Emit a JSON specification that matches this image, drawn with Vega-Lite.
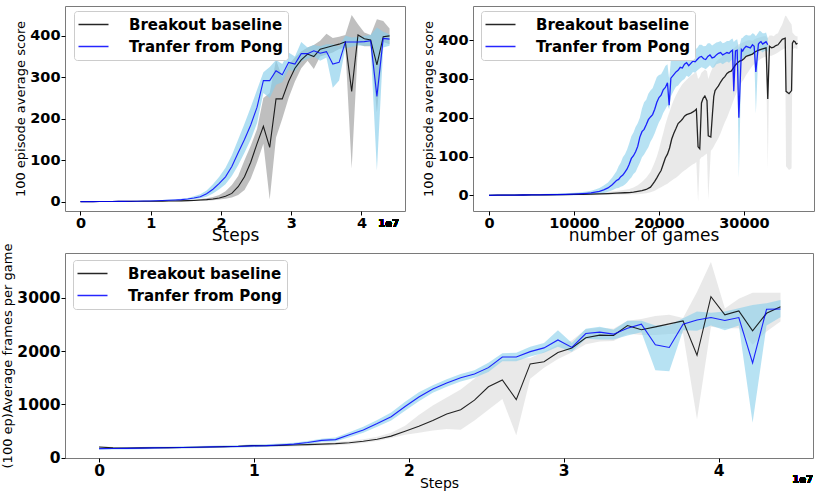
{
  "$schema": "https://vega.github.io/schema/vega-lite/v6.json",
  "background": "white",
  "padding": {"left": 1, "top": 5, "right": 2, "bottom": 2},
  "spacing": -2,
  "config": {
    "view": {"stroke": "#7a7a7a", "strokeWidth": 1},
    "axis": {
      "domain": false, "grid": false, "ticks": true, "tickColor": "#000000", "tickSize": 4,
      "labelFont": "DejaVu Sans", "labelFontWeight": "bold", "labelFontSize": 14.5, "labelColor": "#000000", "labelPadding": 1,
      "titleFont": "DejaVu Sans", "titleFontWeight": "normal", "titleColor": "#000000"
    },
    "axisX": {"titleFontSize": 17, "titlePadding": -2},
    "axisY": {"titleFontSize": 13, "titlePadding": 2},
    "legend": {
      "orient": "none", "legendX": 9, "legendY": 5, "fillColor": "white", "strokeColor": "#cccccc", "cornerRadius": 3, "padding": 5,
      "symbolType": "M-2,0H2", "symbolSize": 225, "symbolOffset": 6, "symbolStrokeWidth": 1.5,
      "labelFont": "DejaVu Sans", "labelFontWeight": "bold", "labelFontSize": 15, "labelOffset": 27, "rowPadding": 5, "labelLimit": 300
    }
  },
  "resolve": {"scale": {"stroke": "independent"}, "legend": {"stroke": "independent"}},
  "datasets": {
    "tl": [
      {"s": 0, "run": "Breakout baseline", "m": 0, "lo": 0, "hi": 0.5},
      {"s": 0.09, "run": "Breakout baseline", "m": 0.1, "lo": 0, "hi": 0.5},
      {"s": 0.18, "run": "Breakout baseline", "m": 0.2, "lo": 0, "hi": 0.6},
      {"s": 0.269, "run": "Breakout baseline", "m": 0.3, "lo": 0, "hi": 0.8},
      {"s": 0.359, "run": "Breakout baseline", "m": 0.4, "lo": 0, "hi": 1},
      {"s": 0.449, "run": "Breakout baseline", "m": 0.5, "lo": 0, "hi": 1},
      {"s": 0.539, "run": "Breakout baseline", "m": 0.6, "lo": 0.1, "hi": 1.2},
      {"s": 0.629, "run": "Breakout baseline", "m": 0.7, "lo": 0.2, "hi": 1.3},
      {"s": 0.718, "run": "Breakout baseline", "m": 0.8, "lo": 0.3, "hi": 1.4},
      {"s": 0.808, "run": "Breakout baseline", "m": 0.9, "lo": 0.4, "hi": 1.5},
      {"s": 0.898, "run": "Breakout baseline", "m": 1, "lo": 0.5, "hi": 1.6},
      {"s": 0.988, "run": "Breakout baseline", "m": 1.1, "lo": 0.5, "hi": 1.8},
      {"s": 1.078, "run": "Breakout baseline", "m": 1.2, "lo": 0.6, "hi": 2},
      {"s": 1.167, "run": "Breakout baseline", "m": 1.3, "lo": 0.7, "hi": 2.1},
      {"s": 1.257, "run": "Breakout baseline", "m": 1.5, "lo": 0.8, "hi": 2.4},
      {"s": 1.347, "run": "Breakout baseline", "m": 1.7, "lo": 0.9, "hi": 2.7},
      {"s": 1.437, "run": "Breakout baseline", "m": 2, "lo": 1, "hi": 3.2},
      {"s": 1.527, "run": "Breakout baseline", "m": 2.5, "lo": 1.3, "hi": 4},
      {"s": 1.616, "run": "Breakout baseline", "m": 3, "lo": 1.6, "hi": 5},
      {"s": 1.706, "run": "Breakout baseline", "m": 4, "lo": 2, "hi": 6.5},
      {"s": 1.796, "run": "Breakout baseline", "m": 5, "lo": 2.6, "hi": 8.5},
      {"s": 1.886, "run": "Breakout baseline", "m": 6.5, "lo": 3.5, "hi": 11},
      {"s": 1.976, "run": "Breakout baseline", "m": 9, "lo": 5, "hi": 16},
      {"s": 2.065, "run": "Breakout baseline", "m": 13, "lo": 7, "hi": 25},
      {"s": 2.155, "run": "Breakout baseline", "m": 20, "lo": 10, "hi": 40},
      {"s": 2.245, "run": "Breakout baseline", "m": 36, "lo": 16, "hi": 62},
      {"s": 2.335, "run": "Breakout baseline", "m": 60, "lo": 28, "hi": 100},
      {"s": 2.424, "run": "Breakout baseline", "m": 95, "lo": 55, "hi": 135},
      {"s": 2.514, "run": "Breakout baseline", "m": 140, "lo": 95, "hi": 175},
      {"s": 2.604, "run": "Breakout baseline", "m": 182, "lo": 140, "hi": 250},
      {"s": 2.694, "run": "Breakout baseline", "m": 131, "lo": 5, "hi": 262},
      {"s": 2.784, "run": "Breakout baseline", "m": 248, "lo": 155, "hi": 342},
      {"s": 2.873, "run": "Breakout baseline", "m": 248, "lo": 200, "hi": 300},
      {"s": 2.963, "run": "Breakout baseline", "m": 290, "lo": 250, "hi": 330},
      {"s": 3.053, "run": "Breakout baseline", "m": 322, "lo": 290, "hi": 348},
      {"s": 3.143, "run": "Breakout baseline", "m": 342, "lo": 322, "hi": 362},
      {"s": 3.233, "run": "Breakout baseline", "m": 356, "lo": 340, "hi": 372},
      {"s": 3.322, "run": "Breakout baseline", "m": 350, "lo": 320, "hi": 378},
      {"s": 3.412, "run": "Breakout baseline", "m": 368, "lo": 350, "hi": 388},
      {"s": 3.502, "run": "Breakout baseline", "m": 372, "lo": 355, "hi": 405},
      {"s": 3.592, "run": "Breakout baseline", "m": 376, "lo": 360, "hi": 395},
      {"s": 3.682, "run": "Breakout baseline", "m": 380, "lo": 368, "hi": 398},
      {"s": 3.771, "run": "Breakout baseline", "m": 386, "lo": 372, "hi": 402},
      {"s": 3.861, "run": "Breakout baseline", "m": 266, "lo": 80, "hi": 450},
      {"s": 3.951, "run": "Breakout baseline", "m": 402, "lo": 380, "hi": 428},
      {"s": 4.041, "run": "Breakout baseline", "m": 393, "lo": 375, "hi": 408},
      {"s": 4.131, "run": "Breakout baseline", "m": 390, "lo": 375, "hi": 402},
      {"s": 4.22, "run": "Breakout baseline", "m": 330, "lo": 215, "hi": 440},
      {"s": 4.31, "run": "Breakout baseline", "m": 398, "lo": 385, "hi": 436},
      {"s": 4.4, "run": "Breakout baseline", "m": 400, "lo": 380, "hi": 418},
      {"s": 0, "run": "Tranfer from Pong", "m": 0, "lo": -0.5, "hi": 0.5},
      {"s": 0.09, "run": "Tranfer from Pong", "m": 0.1, "lo": -0.4, "hi": 0.6},
      {"s": 0.18, "run": "Tranfer from Pong", "m": 0.2, "lo": -0.3, "hi": 0.7},
      {"s": 0.269, "run": "Tranfer from Pong", "m": 0.3, "lo": -0.2, "hi": 0.9},
      {"s": 0.359, "run": "Tranfer from Pong", "m": 0.4, "lo": 0, "hi": 1},
      {"s": 0.449, "run": "Tranfer from Pong", "m": 0.5, "lo": 0, "hi": 1.1},
      {"s": 0.539, "run": "Tranfer from Pong", "m": 0.6, "lo": 0.1, "hi": 1.2},
      {"s": 0.629, "run": "Tranfer from Pong", "m": 0.8, "lo": 0.2, "hi": 1.4},
      {"s": 0.718, "run": "Tranfer from Pong", "m": 1, "lo": 0.3, "hi": 1.7},
      {"s": 0.808, "run": "Tranfer from Pong", "m": 1.2, "lo": 0.4, "hi": 2},
      {"s": 0.898, "run": "Tranfer from Pong", "m": 1.5, "lo": 0.6, "hi": 2.4},
      {"s": 0.988, "run": "Tranfer from Pong", "m": 1.8, "lo": 0.8, "hi": 2.9},
      {"s": 1.078, "run": "Tranfer from Pong", "m": 2.2, "lo": 1, "hi": 3.4},
      {"s": 1.167, "run": "Tranfer from Pong", "m": 2.7, "lo": 1.3, "hi": 4.1},
      {"s": 1.257, "run": "Tranfer from Pong", "m": 3.3, "lo": 1.8, "hi": 5},
      {"s": 1.347, "run": "Tranfer from Pong", "m": 4, "lo": 2.3, "hi": 6},
      {"s": 1.437, "run": "Tranfer from Pong", "m": 5, "lo": 3.5, "hi": 7},
      {"s": 1.527, "run": "Tranfer from Pong", "m": 6.5, "lo": 4.5, "hi": 9},
      {"s": 1.616, "run": "Tranfer from Pong", "m": 9, "lo": 6, "hi": 13},
      {"s": 1.706, "run": "Tranfer from Pong", "m": 12, "lo": 8, "hi": 18},
      {"s": 1.796, "run": "Tranfer from Pong", "m": 19, "lo": 12, "hi": 27},
      {"s": 1.886, "run": "Tranfer from Pong", "m": 30, "lo": 20, "hi": 42},
      {"s": 1.976, "run": "Tranfer from Pong", "m": 44, "lo": 30, "hi": 60},
      {"s": 2.065, "run": "Tranfer from Pong", "m": 60, "lo": 42, "hi": 82},
      {"s": 2.155, "run": "Tranfer from Pong", "m": 85, "lo": 62, "hi": 112},
      {"s": 2.245, "run": "Tranfer from Pong", "m": 118, "lo": 88, "hi": 150},
      {"s": 2.335, "run": "Tranfer from Pong", "m": 150, "lo": 118, "hi": 188},
      {"s": 2.424, "run": "Tranfer from Pong", "m": 185, "lo": 150, "hi": 228},
      {"s": 2.514, "run": "Tranfer from Pong", "m": 228, "lo": 190, "hi": 270},
      {"s": 2.604, "run": "Tranfer from Pong", "m": 292, "lo": 262, "hi": 312},
      {"s": 2.694, "run": "Tranfer from Pong", "m": 292, "lo": 250, "hi": 325},
      {"s": 2.784, "run": "Tranfer from Pong", "m": 316, "lo": 282, "hi": 342},
      {"s": 2.873, "run": "Tranfer from Pong", "m": 306, "lo": 288, "hi": 332},
      {"s": 2.963, "run": "Tranfer from Pong", "m": 336, "lo": 318, "hi": 360},
      {"s": 3.053, "run": "Tranfer from Pong", "m": 332, "lo": 314, "hi": 350},
      {"s": 3.143, "run": "Tranfer from Pong", "m": 357, "lo": 338, "hi": 385},
      {"s": 3.233, "run": "Tranfer from Pong", "m": 357, "lo": 345, "hi": 372},
      {"s": 3.322, "run": "Tranfer from Pong", "m": 364, "lo": 350, "hi": 378},
      {"s": 3.412, "run": "Tranfer from Pong", "m": 358, "lo": 340, "hi": 375},
      {"s": 3.502, "run": "Tranfer from Pong", "m": 362, "lo": 348, "hi": 380},
      {"s": 3.592, "run": "Tranfer from Pong", "m": 332, "lo": 275, "hi": 380},
      {"s": 3.682, "run": "Tranfer from Pong", "m": 336, "lo": 292, "hi": 375},
      {"s": 3.771, "run": "Tranfer from Pong", "m": 385, "lo": 370, "hi": 400},
      {"s": 3.861, "run": "Tranfer from Pong", "m": 385, "lo": 374, "hi": 396},
      {"s": 3.951, "run": "Tranfer from Pong", "m": 385, "lo": 377, "hi": 397},
      {"s": 4.041, "run": "Tranfer from Pong", "m": 386, "lo": 376, "hi": 400},
      {"s": 4.131, "run": "Tranfer from Pong", "m": 388, "lo": 376, "hi": 402},
      {"s": 4.22, "run": "Tranfer from Pong", "m": 254, "lo": 75, "hi": 420},
      {"s": 4.31, "run": "Tranfer from Pong", "m": 394, "lo": 372, "hi": 410},
      {"s": 4.4, "run": "Tranfer from Pong", "m": 392, "lo": 376, "hi": 404}
    ],
    "tr": [
      {"g": 0, "run": "Breakout baseline", "m": 0, "lo": -2, "hi": 2},
      {"g": 1000, "run": "Breakout baseline", "m": 0.3, "lo": -1.7, "hi": 2.3},
      {"g": 2000, "run": "Breakout baseline", "m": 0.5, "lo": -1.5, "hi": 2.5},
      {"g": 3000, "run": "Breakout baseline", "m": 0.6, "lo": -1.4, "hi": 2.6},
      {"g": 4000, "run": "Breakout baseline", "m": 0.8, "lo": -1.2, "hi": 2.8},
      {"g": 5000, "run": "Breakout baseline", "m": 1, "lo": -1, "hi": 3},
      {"g": 6000, "run": "Breakout baseline", "m": 1.2, "lo": -0.8, "hi": 3.2},
      {"g": 7000, "run": "Breakout baseline", "m": 1.4, "lo": -0.6, "hi": 3.6},
      {"g": 8000, "run": "Breakout baseline", "m": 1.6, "lo": -0.4, "hi": 4},
      {"g": 9000, "run": "Breakout baseline", "m": 1.9, "lo": -0.2, "hi": 4.4},
      {"g": 10000, "run": "Breakout baseline", "m": 2.2, "lo": 0, "hi": 4.8},
      {"g": 11000, "run": "Breakout baseline", "m": 2.6, "lo": 0.2, "hi": 5.4},
      {"g": 12000, "run": "Breakout baseline", "m": 3, "lo": 0.4, "hi": 6.2},
      {"g": 13000, "run": "Breakout baseline", "m": 3.6, "lo": 0.8, "hi": 7.5},
      {"g": 14000, "run": "Breakout baseline", "m": 4.4, "lo": 1.2, "hi": 9},
      {"g": 15000, "run": "Breakout baseline", "m": 5.5, "lo": 1.6, "hi": 11},
      {"g": 16000, "run": "Breakout baseline", "m": 6.5, "lo": 2, "hi": 14},
      {"g": 16500, "run": "Breakout baseline", "m": 7, "lo": 2.2, "hi": 16},
      {"g": 17000, "run": "Breakout baseline", "m": 8, "lo": 2.6, "hi": 20},
      {"g": 17500, "run": "Breakout baseline", "m": 10, "lo": 3, "hi": 26},
      {"g": 18000, "run": "Breakout baseline", "m": 12, "lo": 4, "hi": 34},
      {"g": 18500, "run": "Breakout baseline", "m": 15, "lo": 5, "hi": 45},
      {"g": 19000, "run": "Breakout baseline", "m": 21, "lo": 8, "hi": 60},
      {"g": 19250, "run": "Breakout baseline", "m": 28, "lo": 10, "hi": 72},
      {"g": 19500, "run": "Breakout baseline", "m": 36, "lo": 12, "hi": 85},
      {"g": 19750, "run": "Breakout baseline", "m": 45, "lo": 15, "hi": 100},
      {"g": 20000, "run": "Breakout baseline", "m": 55, "lo": 18, "hi": 118},
      {"g": 20250, "run": "Breakout baseline", "m": 64, "lo": 21, "hi": 140},
      {"g": 20500, "run": "Breakout baseline", "m": 80, "lo": 24, "hi": 160},
      {"g": 20750, "run": "Breakout baseline", "m": 96, "lo": 27, "hi": 182},
      {"g": 21000, "run": "Breakout baseline", "m": 106, "lo": 30, "hi": 200},
      {"g": 21250, "run": "Breakout baseline", "m": 122, "lo": 34, "hi": 216},
      {"g": 21500, "run": "Breakout baseline", "m": 145, "lo": 38, "hi": 232},
      {"g": 21750, "run": "Breakout baseline", "m": 160, "lo": 42, "hi": 246},
      {"g": 22000, "run": "Breakout baseline", "m": 172, "lo": 45, "hi": 258},
      {"g": 22250, "run": "Breakout baseline", "m": 185, "lo": 50, "hi": 268},
      {"g": 22500, "run": "Breakout baseline", "m": 190, "lo": 55, "hi": 278},
      {"g": 22750, "run": "Breakout baseline", "m": 196, "lo": 60, "hi": 286},
      {"g": 23000, "run": "Breakout baseline", "m": 204, "lo": 64, "hi": 292},
      {"g": 23250, "run": "Breakout baseline", "m": 208, "lo": 68, "hi": 298},
      {"g": 23500, "run": "Breakout baseline", "m": 210, "lo": 72, "hi": 303},
      {"g": 23750, "run": "Breakout baseline", "m": 212, "lo": 76, "hi": 308},
      {"g": 24000, "run": "Breakout baseline", "m": 215, "lo": 80, "hi": 312},
      {"g": 24200, "run": "Breakout baseline", "m": 218, "lo": 82, "hi": 315},
      {"g": 24400, "run": "Breakout baseline", "m": 222, "lo": 86, "hi": 318},
      {"g": 24600, "run": "Breakout baseline", "m": 125, "lo": -16, "hi": 300},
      {"g": 24800, "run": "Breakout baseline", "m": 120, "lo": 92, "hi": 305},
      {"g": 25000, "run": "Breakout baseline", "m": 238, "lo": 98, "hi": 316},
      {"g": 25200, "run": "Breakout baseline", "m": 250, "lo": 100, "hi": 320},
      {"g": 25400, "run": "Breakout baseline", "m": 256, "lo": 104, "hi": 324},
      {"g": 25650, "run": "Breakout baseline", "m": 244, "lo": 108, "hi": 320},
      {"g": 25800, "run": "Breakout baseline", "m": 153, "lo": -10, "hi": 300},
      {"g": 26100, "run": "Breakout baseline", "m": 150, "lo": 115, "hi": 318},
      {"g": 26300, "run": "Breakout baseline", "m": 212, "lo": 120, "hi": 328},
      {"g": 26450, "run": "Breakout baseline", "m": 255, "lo": 126, "hi": 334},
      {"g": 26600, "run": "Breakout baseline", "m": 270, "lo": 132, "hi": 340},
      {"g": 26800, "run": "Breakout baseline", "m": 276, "lo": 140, "hi": 346},
      {"g": 27000, "run": "Breakout baseline", "m": 282, "lo": 148, "hi": 350},
      {"g": 27250, "run": "Breakout baseline", "m": 292, "lo": 160, "hi": 354},
      {"g": 27500, "run": "Breakout baseline", "m": 300, "lo": 175, "hi": 358},
      {"g": 27750, "run": "Breakout baseline", "m": 306, "lo": 188, "hi": 362},
      {"g": 28000, "run": "Breakout baseline", "m": 314, "lo": 200, "hi": 366},
      {"g": 28250, "run": "Breakout baseline", "m": 318, "lo": 214, "hi": 370},
      {"g": 28500, "run": "Breakout baseline", "m": 320, "lo": 228, "hi": 374},
      {"g": 28750, "run": "Breakout baseline", "m": 328, "lo": 244, "hi": 378},
      {"g": 29000, "run": "Breakout baseline", "m": 336, "lo": 258, "hi": 383},
      {"g": 29250, "run": "Breakout baseline", "m": 342, "lo": 270, "hi": 388},
      {"g": 29500, "run": "Breakout baseline", "m": 346, "lo": 283, "hi": 390},
      {"g": 29750, "run": "Breakout baseline", "m": 348, "lo": 292, "hi": 392},
      {"g": 30000, "run": "Breakout baseline", "m": 352, "lo": 300, "hi": 395},
      {"g": 30250, "run": "Breakout baseline", "m": 358, "lo": 310, "hi": 398},
      {"g": 30500, "run": "Breakout baseline", "m": 360, "lo": 318, "hi": 400},
      {"g": 30750, "run": "Breakout baseline", "m": 362, "lo": 326, "hi": 400},
      {"g": 31000, "run": "Breakout baseline", "m": 364, "lo": 334, "hi": 398},
      {"g": 31250, "run": "Breakout baseline", "m": 369, "lo": 340, "hi": 402},
      {"g": 31500, "run": "Breakout baseline", "m": 372, "lo": 345, "hi": 405},
      {"g": 31750, "run": "Breakout baseline", "m": 374, "lo": 348, "hi": 406},
      {"g": 32000, "run": "Breakout baseline", "m": 376, "lo": 352, "hi": 408},
      {"g": 32300, "run": "Breakout baseline", "m": 378, "lo": 355, "hi": 410},
      {"g": 32600, "run": "Breakout baseline", "m": 380, "lo": 358, "hi": 410},
      {"g": 32800, "run": "Breakout baseline", "m": 248, "lo": 70, "hi": 405},
      {"g": 33000, "run": "Breakout baseline", "m": 384, "lo": 360, "hi": 412},
      {"g": 33250, "run": "Breakout baseline", "m": 380, "lo": 360, "hi": 412},
      {"g": 33500, "run": "Breakout baseline", "m": 382, "lo": 362, "hi": 410},
      {"g": 33750, "run": "Breakout baseline", "m": 386, "lo": 365, "hi": 415},
      {"g": 34000, "run": "Breakout baseline", "m": 388, "lo": 368, "hi": 418},
      {"g": 34250, "run": "Breakout baseline", "m": 395, "lo": 372, "hi": 430},
      {"g": 34500, "run": "Breakout baseline", "m": 402, "lo": 375, "hi": 440},
      {"g": 34850, "run": "Breakout baseline", "m": 405, "lo": 380, "hi": 462},
      {"g": 34950, "run": "Breakout baseline", "m": 268, "lo": 75, "hi": 463},
      {"g": 35300, "run": "Breakout baseline", "m": 262, "lo": 65, "hi": 450},
      {"g": 35600, "run": "Breakout baseline", "m": 270, "lo": 70, "hi": 440},
      {"g": 35700, "run": "Breakout baseline", "m": 392, "lo": 375, "hi": 420},
      {"g": 35850, "run": "Breakout baseline", "m": 398, "lo": 378, "hi": 416},
      {"g": 36000, "run": "Breakout baseline", "m": 396, "lo": 380, "hi": 412},
      {"g": 36150, "run": "Breakout baseline", "m": 390, "lo": 378, "hi": 410},
      {"g": 36300, "run": "Breakout baseline", "m": 392, "lo": 378, "hi": 410},
      {"g": 0, "run": "Tranfer from Pong", "m": 0, "lo": -2, "hi": 2},
      {"g": 1000, "run": "Tranfer from Pong", "m": 0.2, "lo": -1.8, "hi": 2.2},
      {"g": 2000, "run": "Tranfer from Pong", "m": 0.5, "lo": -1.5, "hi": 2.5},
      {"g": 3000, "run": "Tranfer from Pong", "m": 0.6, "lo": -1.4, "hi": 2.7},
      {"g": 4000, "run": "Tranfer from Pong", "m": 0.8, "lo": -1.2, "hi": 3},
      {"g": 5000, "run": "Tranfer from Pong", "m": 1, "lo": -1, "hi": 3.2},
      {"g": 6000, "run": "Tranfer from Pong", "m": 1.2, "lo": -0.8, "hi": 3.6},
      {"g": 7000, "run": "Tranfer from Pong", "m": 1.5, "lo": -0.6, "hi": 4},
      {"g": 8000, "run": "Tranfer from Pong", "m": 1.9, "lo": -0.3, "hi": 4.6},
      {"g": 9000, "run": "Tranfer from Pong", "m": 2.4, "lo": 0, "hi": 5.4},
      {"g": 10000, "run": "Tranfer from Pong", "m": 3, "lo": 0.4, "hi": 6.4},
      {"g": 10500, "run": "Tranfer from Pong", "m": 3.5, "lo": 0.7, "hi": 7.4},
      {"g": 11000, "run": "Tranfer from Pong", "m": 4.2, "lo": 1, "hi": 8.6},
      {"g": 11500, "run": "Tranfer from Pong", "m": 5, "lo": 1.4, "hi": 10},
      {"g": 12000, "run": "Tranfer from Pong", "m": 6, "lo": 2, "hi": 12},
      {"g": 12500, "run": "Tranfer from Pong", "m": 8, "lo": 3, "hi": 15},
      {"g": 13000, "run": "Tranfer from Pong", "m": 10, "lo": 4, "hi": 19},
      {"g": 13500, "run": "Tranfer from Pong", "m": 14, "lo": 6, "hi": 25},
      {"g": 14000, "run": "Tranfer from Pong", "m": 19, "lo": 9, "hi": 33},
      {"g": 14500, "run": "Tranfer from Pong", "m": 27, "lo": 13, "hi": 46},
      {"g": 15000, "run": "Tranfer from Pong", "m": 38, "lo": 18, "hi": 62},
      {"g": 15250, "run": "Tranfer from Pong", "m": 41, "lo": 19, "hi": 75},
      {"g": 15500, "run": "Tranfer from Pong", "m": 48, "lo": 22, "hi": 84},
      {"g": 15750, "run": "Tranfer from Pong", "m": 52, "lo": 24, "hi": 98},
      {"g": 16000, "run": "Tranfer from Pong", "m": 60, "lo": 28, "hi": 106},
      {"g": 16250, "run": "Tranfer from Pong", "m": 68, "lo": 33, "hi": 118},
      {"g": 16500, "run": "Tranfer from Pong", "m": 80, "lo": 40, "hi": 134},
      {"g": 16750, "run": "Tranfer from Pong", "m": 95, "lo": 46, "hi": 152},
      {"g": 17000, "run": "Tranfer from Pong", "m": 102, "lo": 55, "hi": 162},
      {"g": 17250, "run": "Tranfer from Pong", "m": 112, "lo": 60, "hi": 176},
      {"g": 17500, "run": "Tranfer from Pong", "m": 126, "lo": 72, "hi": 186},
      {"g": 17750, "run": "Tranfer from Pong", "m": 150, "lo": 84, "hi": 200},
      {"g": 18000, "run": "Tranfer from Pong", "m": 164, "lo": 98, "hi": 224},
      {"g": 18250, "run": "Tranfer from Pong", "m": 170, "lo": 105, "hi": 240},
      {"g": 18500, "run": "Tranfer from Pong", "m": 182, "lo": 115, "hi": 246},
      {"g": 18750, "run": "Tranfer from Pong", "m": 195, "lo": 124, "hi": 262},
      {"g": 19000, "run": "Tranfer from Pong", "m": 202, "lo": 138, "hi": 270},
      {"g": 19250, "run": "Tranfer from Pong", "m": 208, "lo": 148, "hi": 276},
      {"g": 19500, "run": "Tranfer from Pong", "m": 222, "lo": 160, "hi": 290},
      {"g": 19750, "run": "Tranfer from Pong", "m": 240, "lo": 175, "hi": 305},
      {"g": 20000, "run": "Tranfer from Pong", "m": 252, "lo": 188, "hi": 310},
      {"g": 20250, "run": "Tranfer from Pong", "m": 258, "lo": 198, "hi": 312},
      {"g": 20500, "run": "Tranfer from Pong", "m": 272, "lo": 212, "hi": 322},
      {"g": 20750, "run": "Tranfer from Pong", "m": 278, "lo": 222, "hi": 333},
      {"g": 21000, "run": "Tranfer from Pong", "m": 290, "lo": 232, "hi": 338},
      {"g": 21200, "run": "Tranfer from Pong", "m": 232, "lo": 222, "hi": 300},
      {"g": 21400, "run": "Tranfer from Pong", "m": 302, "lo": 255, "hi": 348},
      {"g": 21700, "run": "Tranfer from Pong", "m": 310, "lo": 268, "hi": 352},
      {"g": 22000, "run": "Tranfer from Pong", "m": 318, "lo": 280, "hi": 360},
      {"g": 22250, "run": "Tranfer from Pong", "m": 322, "lo": 283, "hi": 366},
      {"g": 22500, "run": "Tranfer from Pong", "m": 330, "lo": 290, "hi": 368},
      {"g": 22750, "run": "Tranfer from Pong", "m": 328, "lo": 296, "hi": 362},
      {"g": 23000, "run": "Tranfer from Pong", "m": 338, "lo": 300, "hi": 372},
      {"g": 23250, "run": "Tranfer from Pong", "m": 342, "lo": 308, "hi": 378},
      {"g": 23500, "run": "Tranfer from Pong", "m": 334, "lo": 305, "hi": 365},
      {"g": 23750, "run": "Tranfer from Pong", "m": 340, "lo": 310, "hi": 372},
      {"g": 24000, "run": "Tranfer from Pong", "m": 346, "lo": 318, "hi": 378},
      {"g": 24250, "run": "Tranfer from Pong", "m": 344, "lo": 316, "hi": 376},
      {"g": 24500, "run": "Tranfer from Pong", "m": 350, "lo": 322, "hi": 380},
      {"g": 24750, "run": "Tranfer from Pong", "m": 356, "lo": 326, "hi": 388},
      {"g": 25000, "run": "Tranfer from Pong", "m": 358, "lo": 330, "hi": 388},
      {"g": 25250, "run": "Tranfer from Pong", "m": 352, "lo": 328, "hi": 384},
      {"g": 25500, "run": "Tranfer from Pong", "m": 350, "lo": 325, "hi": 385},
      {"g": 25750, "run": "Tranfer from Pong", "m": 358, "lo": 330, "hi": 392},
      {"g": 26000, "run": "Tranfer from Pong", "m": 362, "lo": 335, "hi": 392},
      {"g": 26250, "run": "Tranfer from Pong", "m": 354, "lo": 328, "hi": 386},
      {"g": 26500, "run": "Tranfer from Pong", "m": 356, "lo": 330, "hi": 390},
      {"g": 26750, "run": "Tranfer from Pong", "m": 362, "lo": 338, "hi": 394},
      {"g": 27000, "run": "Tranfer from Pong", "m": 366, "lo": 340, "hi": 395},
      {"g": 27250, "run": "Tranfer from Pong", "m": 368, "lo": 342, "hi": 398},
      {"g": 27500, "run": "Tranfer from Pong", "m": 362, "lo": 338, "hi": 392},
      {"g": 27750, "run": "Tranfer from Pong", "m": 365, "lo": 342, "hi": 394},
      {"g": 28000, "run": "Tranfer from Pong", "m": 368, "lo": 345, "hi": 398},
      {"g": 28250, "run": "Tranfer from Pong", "m": 366, "lo": 342, "hi": 398},
      {"g": 28500, "run": "Tranfer from Pong", "m": 372, "lo": 348, "hi": 402},
      {"g": 28650, "run": "Tranfer from Pong", "m": 374, "lo": 350, "hi": 404},
      {"g": 28800, "run": "Tranfer from Pong", "m": 268, "lo": 255, "hi": 395},
      {"g": 29000, "run": "Tranfer from Pong", "m": 372, "lo": 350, "hi": 400},
      {"g": 29200, "run": "Tranfer from Pong", "m": 374, "lo": 350, "hi": 402},
      {"g": 29400, "run": "Tranfer from Pong", "m": 200, "lo": 45, "hi": 380},
      {"g": 29700, "run": "Tranfer from Pong", "m": 376, "lo": 352, "hi": 405},
      {"g": 29850, "run": "Tranfer from Pong", "m": 372, "lo": 350, "hi": 406},
      {"g": 30000, "run": "Tranfer from Pong", "m": 378, "lo": 355, "hi": 410},
      {"g": 30250, "run": "Tranfer from Pong", "m": 384, "lo": 362, "hi": 414},
      {"g": 30500, "run": "Tranfer from Pong", "m": 382, "lo": 360, "hi": 412},
      {"g": 30750, "run": "Tranfer from Pong", "m": 380, "lo": 358, "hi": 412},
      {"g": 31000, "run": "Tranfer from Pong", "m": 388, "lo": 365, "hi": 418},
      {"g": 31200, "run": "Tranfer from Pong", "m": 384, "lo": 366, "hi": 416},
      {"g": 31400, "run": "Tranfer from Pong", "m": 318, "lo": 210, "hi": 410},
      {"g": 31700, "run": "Tranfer from Pong", "m": 390, "lo": 368, "hi": 420},
      {"g": 31850, "run": "Tranfer from Pong", "m": 394, "lo": 372, "hi": 424},
      {"g": 32000, "run": "Tranfer from Pong", "m": 396, "lo": 372, "hi": 422},
      {"g": 32200, "run": "Tranfer from Pong", "m": 390, "lo": 368, "hi": 418},
      {"g": 32400, "run": "Tranfer from Pong", "m": 393, "lo": 372, "hi": 418},
      {"g": 32600, "run": "Tranfer from Pong", "m": 396, "lo": 374, "hi": 420},
      {"g": 32800, "run": "Tranfer from Pong", "m": 388, "lo": 370, "hi": 405}
    ],
    "bt": [
      {"s": 0, "run": "Breakout baseline", "m": 200, "lo": 180, "hi": 218},
      {"s": 0.09, "run": "Breakout baseline", "m": 185, "lo": 168, "hi": 202},
      {"s": 0.18, "run": "Breakout baseline", "m": 183, "lo": 166, "hi": 200},
      {"s": 0.269, "run": "Breakout baseline", "m": 184, "lo": 167, "hi": 201},
      {"s": 0.359, "run": "Breakout baseline", "m": 187, "lo": 170, "hi": 204},
      {"s": 0.449, "run": "Breakout baseline", "m": 190, "lo": 172, "hi": 208},
      {"s": 0.539, "run": "Breakout baseline", "m": 193, "lo": 175, "hi": 211},
      {"s": 0.629, "run": "Breakout baseline", "m": 197, "lo": 179, "hi": 215},
      {"s": 0.718, "run": "Breakout baseline", "m": 202, "lo": 183, "hi": 221},
      {"s": 0.808, "run": "Breakout baseline", "m": 208, "lo": 188, "hi": 228},
      {"s": 0.898, "run": "Breakout baseline", "m": 215, "lo": 194, "hi": 236},
      {"s": 0.988, "run": "Breakout baseline", "m": 228, "lo": 206, "hi": 250},
      {"s": 1.078, "run": "Breakout baseline", "m": 225, "lo": 203, "hi": 247},
      {"s": 1.167, "run": "Breakout baseline", "m": 232, "lo": 208, "hi": 256},
      {"s": 1.257, "run": "Breakout baseline", "m": 238, "lo": 213, "hi": 263},
      {"s": 1.347, "run": "Breakout baseline", "m": 245, "lo": 219, "hi": 271},
      {"s": 1.437, "run": "Breakout baseline", "m": 255, "lo": 227, "hi": 283},
      {"s": 1.527, "run": "Breakout baseline", "m": 265, "lo": 235, "hi": 295},
      {"s": 1.616, "run": "Breakout baseline", "m": 282, "lo": 250, "hi": 315},
      {"s": 1.706, "run": "Breakout baseline", "m": 310, "lo": 275, "hi": 345},
      {"s": 1.796, "run": "Breakout baseline", "m": 348, "lo": 312, "hi": 395},
      {"s": 1.886, "run": "Breakout baseline", "m": 405, "lo": 370, "hi": 470},
      {"s": 1.976, "run": "Breakout baseline", "m": 495, "lo": 430, "hi": 600},
      {"s": 2.065, "run": "Breakout baseline", "m": 590, "lo": 470, "hi": 800},
      {"s": 2.155, "run": "Breakout baseline", "m": 700, "lo": 510, "hi": 980},
      {"s": 2.245, "run": "Breakout baseline", "m": 820, "lo": 540, "hi": 1130},
      {"s": 2.335, "run": "Breakout baseline", "m": 900, "lo": 525, "hi": 1280},
      {"s": 2.424, "run": "Breakout baseline", "m": 1080, "lo": 700, "hi": 1480},
      {"s": 2.514, "run": "Breakout baseline", "m": 1330, "lo": 900, "hi": 1730},
      {"s": 2.604, "run": "Breakout baseline", "m": 1460, "lo": 1100, "hi": 1840},
      {"s": 2.694, "run": "Breakout baseline", "m": 1090, "lo": 420, "hi": 1850},
      {"s": 2.784, "run": "Breakout baseline", "m": 1760, "lo": 1480, "hi": 1870},
      {"s": 2.873, "run": "Breakout baseline", "m": 1800, "lo": 1690, "hi": 1990},
      {"s": 2.963, "run": "Breakout baseline", "m": 1975, "lo": 1850, "hi": 2120},
      {"s": 3.053, "run": "Breakout baseline", "m": 2060, "lo": 1980, "hi": 2200},
      {"s": 3.143, "run": "Breakout baseline", "m": 2250, "lo": 2130, "hi": 2410},
      {"s": 3.233, "run": "Breakout baseline", "m": 2300, "lo": 2180, "hi": 2440},
      {"s": 3.322, "run": "Breakout baseline", "m": 2293, "lo": 2190, "hi": 2420},
      {"s": 3.412, "run": "Breakout baseline", "m": 2480, "lo": 2330, "hi": 2570},
      {"s": 3.502, "run": "Breakout baseline", "m": 2400, "lo": 2300, "hi": 2600},
      {"s": 3.592, "run": "Breakout baseline", "m": 2455, "lo": 2300, "hi": 2660},
      {"s": 3.682, "run": "Breakout baseline", "m": 2510, "lo": 2320, "hi": 2680},
      {"s": 3.771, "run": "Breakout baseline", "m": 2567, "lo": 2330, "hi": 2620},
      {"s": 3.861, "run": "Breakout baseline", "m": 1922, "lo": 720, "hi": 3110},
      {"s": 3.951, "run": "Breakout baseline", "m": 3020, "lo": 2455, "hi": 3670},
      {"s": 4.041, "run": "Breakout baseline", "m": 2679, "lo": 2430, "hi": 2800},
      {"s": 4.131, "run": "Breakout baseline", "m": 2754, "lo": 2430, "hi": 2980},
      {"s": 4.22, "run": "Breakout baseline", "m": 2381, "lo": 2120, "hi": 3095},
      {"s": 4.31, "run": "Breakout baseline", "m": 2709, "lo": 2370, "hi": 3095},
      {"s": 4.4, "run": "Breakout baseline", "m": 2834, "lo": 2555, "hi": 3095},
      {"s": 0, "run": "Tranfer from Pong", "m": 170, "lo": 150, "hi": 190},
      {"s": 0.09, "run": "Tranfer from Pong", "m": 173, "lo": 153, "hi": 193},
      {"s": 0.18, "run": "Tranfer from Pong", "m": 176, "lo": 156, "hi": 196},
      {"s": 0.269, "run": "Tranfer from Pong", "m": 180, "lo": 160, "hi": 200},
      {"s": 0.359, "run": "Tranfer from Pong", "m": 184, "lo": 164, "hi": 204},
      {"s": 0.449, "run": "Tranfer from Pong", "m": 188, "lo": 168, "hi": 208},
      {"s": 0.539, "run": "Tranfer from Pong", "m": 193, "lo": 172, "hi": 214},
      {"s": 0.629, "run": "Tranfer from Pong", "m": 198, "lo": 177, "hi": 219},
      {"s": 0.718, "run": "Tranfer from Pong", "m": 203, "lo": 181, "hi": 225},
      {"s": 0.808, "run": "Tranfer from Pong", "m": 207, "lo": 185, "hi": 229},
      {"s": 0.898, "run": "Tranfer from Pong", "m": 212, "lo": 190, "hi": 234},
      {"s": 0.988, "run": "Tranfer from Pong", "m": 222, "lo": 198, "hi": 246},
      {"s": 1.078, "run": "Tranfer from Pong", "m": 228, "lo": 204, "hi": 252},
      {"s": 1.167, "run": "Tranfer from Pong", "m": 240, "lo": 214, "hi": 266},
      {"s": 1.257, "run": "Tranfer from Pong", "m": 255, "lo": 228, "hi": 282},
      {"s": 1.347, "run": "Tranfer from Pong", "m": 285, "lo": 255, "hi": 315},
      {"s": 1.437, "run": "Tranfer from Pong", "m": 325, "lo": 295, "hi": 355},
      {"s": 1.527, "run": "Tranfer from Pong", "m": 340, "lo": 305, "hi": 380},
      {"s": 1.616, "run": "Tranfer from Pong", "m": 430, "lo": 385, "hi": 480},
      {"s": 1.706, "run": "Tranfer from Pong", "m": 520, "lo": 470, "hi": 580},
      {"s": 1.796, "run": "Tranfer from Pong", "m": 640, "lo": 580, "hi": 710},
      {"s": 1.886, "run": "Tranfer from Pong", "m": 770, "lo": 700, "hi": 850},
      {"s": 1.976, "run": "Tranfer from Pong", "m": 960, "lo": 880, "hi": 1050},
      {"s": 2.065, "run": "Tranfer from Pong", "m": 1140, "lo": 1060, "hi": 1230},
      {"s": 2.155, "run": "Tranfer from Pong", "m": 1290, "lo": 1220, "hi": 1360},
      {"s": 2.245, "run": "Tranfer from Pong", "m": 1400, "lo": 1330, "hi": 1470},
      {"s": 2.335, "run": "Tranfer from Pong", "m": 1500, "lo": 1430, "hi": 1570},
      {"s": 2.424, "run": "Tranfer from Pong", "m": 1570, "lo": 1500, "hi": 1640},
      {"s": 2.514, "run": "Tranfer from Pong", "m": 1690, "lo": 1610, "hi": 1780},
      {"s": 2.604, "run": "Tranfer from Pong", "m": 1890, "lo": 1810, "hi": 1960},
      {"s": 2.694, "run": "Tranfer from Pong", "m": 1890, "lo": 1810, "hi": 1970},
      {"s": 2.784, "run": "Tranfer from Pong", "m": 1990, "lo": 1900, "hi": 2080},
      {"s": 2.873, "run": "Tranfer from Pong", "m": 2060, "lo": 1970, "hi": 2150},
      {"s": 2.963, "run": "Tranfer from Pong", "m": 2210, "lo": 2080, "hi": 2390},
      {"s": 3.053, "run": "Tranfer from Pong", "m": 2070, "lo": 1990, "hi": 2150},
      {"s": 3.143, "run": "Tranfer from Pong", "m": 2330, "lo": 2230, "hi": 2420},
      {"s": 3.233, "run": "Tranfer from Pong", "m": 2355, "lo": 2219, "hi": 2455},
      {"s": 3.322, "run": "Tranfer from Pong", "m": 2318, "lo": 2219, "hi": 2400},
      {"s": 3.412, "run": "Tranfer from Pong", "m": 2430, "lo": 2293, "hi": 2567},
      {"s": 3.502, "run": "Tranfer from Pong", "m": 2505, "lo": 2355, "hi": 2567},
      {"s": 3.592, "run": "Tranfer from Pong", "m": 2119, "lo": 1641, "hi": 2480},
      {"s": 3.682, "run": "Tranfer from Pong", "m": 2069, "lo": 1622, "hi": 2480},
      {"s": 3.771, "run": "Tranfer from Pong", "m": 2505, "lo": 2393, "hi": 2617},
      {"s": 3.861, "run": "Tranfer from Pong", "m": 2585, "lo": 2380, "hi": 2742},
      {"s": 3.951, "run": "Tranfer from Pong", "m": 2629, "lo": 2480, "hi": 2720},
      {"s": 4.041, "run": "Tranfer from Pong", "m": 2573, "lo": 2393, "hi": 2742},
      {"s": 4.131, "run": "Tranfer from Pong", "m": 2629, "lo": 2480, "hi": 2804},
      {"s": 4.22, "run": "Tranfer from Pong", "m": 1777, "lo": 657, "hi": 2866},
      {"s": 4.31, "run": "Tranfer from Pong", "m": 2784, "lo": 2480, "hi": 2896},
      {"s": 4.4, "run": "Tranfer from Pong", "m": 2790, "lo": 2636, "hi": 2959}
    ]
  },
  "vconcat": [
    {
      "hconcat": [
        {
          "width": 340,
          "height": 205,
          "data": {"name": "tl"},
          "encoding": {
            "x": {"field": "s", "type": "quantitative", "scale": {"domain": [-0.22, 4.62], "nice": false, "zero": false}, "axis": {"title": "Steps", "values": [0, 1, 2, 3, 4], "format": "d"}}
          },
          "layer": [
            {
              "transform": [{"filter": "datum.run === 'Breakout baseline'"}],
              "mark": {"type": "area", "fill": "#808080", "opacity": 0.5},
              "encoding": {
                "y": {"field": "lo", "type": "quantitative", "scale": {"domain": [-22.5, 472], "nice": false, "zero": false}, "axis": {"title": "100 episode average score", "values": [0, 100, 200, 300, 400], "format": "d"}},
                "y2": {"field": "hi"}
              }
            },
            {
              "transform": [{"filter": "datum.run === 'Tranfer from Pong'"}],
              "mark": {"type": "area", "fill": "#87ceeb", "opacity": 0.65},
              "encoding": {
                "y": {"field": "lo", "type": "quantitative", "scale": {"domain": [-22.5, 472], "nice": false, "zero": false}, "axis": {"title": "100 episode average score", "values": [0, 100, 200, 300, 400], "format": "d"}},
                "y2": {"field": "hi"}
              }
            },
            {
              "mark": {"type": "line", "strokeWidth": 1.1, "opacity": 0.85},
              "encoding": {
                "y": {"field": "m", "type": "quantitative", "scale": {"domain": [-22.5, 472], "nice": false, "zero": false}, "axis": {"title": "100 episode average score", "values": [0, 100, 200, 300, 400], "format": "d"}},
                "stroke": {"field": "run", "type": "nominal", "scale": {"domain": ["Breakout baseline", "Tranfer from Pong"], "range": ["#000000", "#0000ff"]}, "legend": {"title": null}}
              }
            },
            {
              "mark": {"type": "text", "align": "right", "baseline": "top", "dy": 8, "dx": -6, "font": "DejaVu Sans", "fontSize": 10, "fontWeight": "bold", "color": "#000000"},
              "encoding": {
                "x": {"datum": 4.62},
                "y": {"datum": -22.5, "scale": {"domain": [-22.5, 472], "nice": false, "zero": false}},
                "text": {"value": "1e7"}
              }
            }
          ]
        },
        {
          "width": 341,
          "height": 205,
          "data": {"name": "tr"},
          "encoding": {
            "x": {"field": "g", "type": "quantitative", "scale": {"domain": [-1880, 38240], "nice": false, "zero": false}, "axis": {"title": "number of games", "values": [0, 10000, 20000, 30000], "format": "d"}}
          },
          "layer": [
            {
              "transform": [{"filter": "datum.run === 'Breakout baseline'"}],
              "mark": {"type": "area", "fill": "#d3d3d3", "opacity": 0.5},
              "encoding": {
                "y": {"field": "lo", "type": "quantitative", "scale": {"domain": [-40.5, 488], "nice": false, "zero": false}, "axis": {"title": "100 episode average score", "values": [0, 100, 200, 300, 400], "format": "d"}},
                "y2": {"field": "hi"}
              }
            },
            {
              "transform": [{"filter": "datum.run === 'Tranfer from Pong'"}],
              "mark": {"type": "area", "fill": "#87ceeb", "opacity": 0.6},
              "encoding": {
                "y": {"field": "lo", "type": "quantitative", "scale": {"domain": [-40.5, 488], "nice": false, "zero": false}, "axis": {"title": "100 episode average score", "values": [0, 100, 200, 300, 400], "format": "d"}},
                "y2": {"field": "hi"}
              }
            },
            {
              "mark": {"type": "line", "strokeWidth": 1.3, "opacity": 0.85},
              "encoding": {
                "y": {"field": "m", "type": "quantitative", "scale": {"domain": [-40.5, 488], "nice": false, "zero": false}, "axis": {"title": "100 episode average score", "values": [0, 100, 200, 300, 400], "format": "d"}},
                "stroke": {"field": "run", "type": "nominal", "scale": {"domain": ["Breakout baseline", "Tranfer from Pong"], "range": ["#000000", "#0000ff"]}, "legend": {"title": null, "legendX": 8}}
              }
            }
          ]
        }
      ],
      "spacing": 68,
      "bounds": "flush",
      "resolve": {"scale": {"stroke": "independent"}, "legend": {"stroke": "independent"}}
    },
    {
      "width": 748,
      "height": 205,
      "data": {"name": "bt"},
      "encoding": {
        "x": {"field": "s", "type": "quantitative", "scale": {"domain": [-0.22, 4.61], "nice": false, "zero": false}, "axis": {"title": "Steps", "titleFontSize": 14, "titlePadding": -2, "labelFontSize": 15.5, "values": [0, 1, 2, 3, 4], "format": "d"}}
      },
      "layer": [
        {
          "transform": [{"filter": "datum.run === 'Breakout baseline'"}],
          "mark": {"type": "area", "fill": "#d3d3d3", "opacity": 0.5},
          "encoding": {
            "y": {"field": "lo", "type": "quantitative", "scale": {"domain": [-5, 3840], "nice": false, "zero": false}, "axis": {"title": "(100 ep)Average frames per game", "labelFontSize": 15.5, "values": [0, 1000, 2000, 3000], "format": "d"}},
            "y2": {"field": "hi"}
          }
        },
        {
          "transform": [{"filter": "datum.run === 'Tranfer from Pong'"}],
          "mark": {"type": "area", "fill": "#87ceeb", "opacity": 0.6},
          "encoding": {
            "y": {"field": "lo", "type": "quantitative", "scale": {"domain": [-5, 3840], "nice": false, "zero": false}, "axis": {"title": "(100 ep)Average frames per game", "labelFontSize": 15.5, "values": [0, 1000, 2000, 3000], "format": "d"}},
            "y2": {"field": "hi"}
          }
        },
        {
          "mark": {"type": "line", "strokeWidth": 1.1, "opacity": 0.85},
          "encoding": {
            "y": {"field": "m", "type": "quantitative", "scale": {"domain": [-5, 3840], "nice": false, "zero": false}, "axis": {"title": "(100 ep)Average frames per game", "labelFontSize": 15.5, "values": [0, 1000, 2000, 3000], "format": "d"}},
            "stroke": {"field": "run", "type": "nominal", "scale": {"domain": ["Breakout baseline", "Tranfer from Pong"], "range": ["#000000", "#0000ff"]}, "legend": {"title": null, "legendX": 8, "legendY": 7}}
          }
        },
        {
          "mark": {"type": "text", "align": "right", "baseline": "top", "dy": 17, "font": "DejaVu Sans", "fontSize": 10, "fontWeight": "bold", "color": "#000000"},
          "encoding": {
            "x": {"datum": 4.61},
            "y": {"datum": -5, "scale": {"domain": [-5, 3840], "nice": false, "zero": false}},
            "text": {"value": "1e7"}
          }
        }
      ]
    }
  ]
}
